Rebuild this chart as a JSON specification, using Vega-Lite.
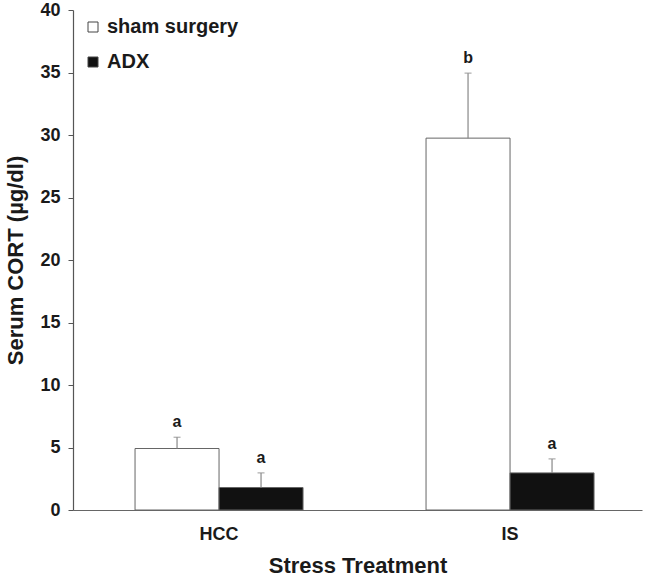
{
  "$schema": "https://vega.github.io/schema/vega-lite/v6.json",
  "autosize": "none",
  "width": 569,
  "height": 500,
  "padding": {"left": 73, "top": 10, "right": 3, "bottom": 70},
  "background": "white",
  "config": {
    "view": {"stroke": null},
    "font": "Liberation Sans"
  },
  "data": {
    "values": [
      {"treatment": "HCC", "group": "sham surgery", "value": 4.92, "upper": 5.82, "letter": "a"},
      {"treatment": "HCC", "group": "ADX", "value": 1.80, "upper": 2.97, "letter": "a"},
      {"treatment": "IS", "group": "sham surgery", "value": 29.75, "upper": 34.95, "letter": "b"},
      {"treatment": "IS", "group": "ADX", "value": 2.97, "upper": 4.09, "letter": "a"}
    ]
  },
  "encoding": {
    "x": {
      "field": "treatment",
      "type": "nominal",
      "sort": ["HCC", "IS"],
      "scale": {"paddingInner": 0.4227, "paddingOuter": 0.189, "align": 0.564},
      "axis": {
        "title": "Stress Treatment",
        "labelAngle": 0,
        "ticks": false,
        "tickSize": 0,
        "labelPadding": 15,
        "labelFontSize": 18,
        "labelFontWeight": "bold",
        "labelColor": "#1a1a1a",
        "titleFontSize": 22,
        "titleFontWeight": "bold",
        "titleColor": "#1a1a1a",
        "titlePadding": 12,
        "domainColor": "#666",
        "domainWidth": 1.2
      }
    },
    "xOffset": {
      "field": "group",
      "type": "nominal",
      "sort": ["sham surgery", "ADX"],
      "scale": {"paddingInner": 0, "paddingOuter": 0}
    }
  },
  "layer": [
    {
      "mark": {"type": "bar", "stroke": "#666", "strokeWidth": 1},
      "encoding": {
        "y": {
          "field": "value",
          "type": "quantitative",
          "scale": {"domain": [0, 40], "nice": false},
          "axis": {
            "title": "Serum CORT (µg/dl)",
            "values": [0, 5, 10, 15, 20, 25, 30, 35, 40],
            "grid": false,
            "tickSize": 5,
            "labelPadding": 8,
            "labelFontSize": 18,
            "labelFontWeight": "bold",
            "labelColor": "#1a1a1a",
            "titleFontSize": 22,
            "titleFontWeight": "bold",
            "titleColor": "#1a1a1a",
            "titlePadding": 12,
            "domainColor": "#555",
            "tickColor": "#555",
            "domainWidth": 1.2
          }
        },
        "color": {
          "field": "group",
          "type": "nominal",
          "sort": ["sham surgery", "ADX"],
          "scale": {"domain": ["sham surgery", "ADX"], "range": ["#ffffff", "#111111"]},
          "legend": {
            "title": null,
            "orient": "none",
            "legendX": 10,
            "legendY": 7,
            "symbolType": "square",
            "symbolSize": 100,
            "symbolStrokeColor": "#444",
            "symbolStrokeWidth": 1,
            "labelFontSize": 20,
            "labelFontWeight": "bold",
            "labelColor": "#1a1a1a",
            "labelOffset": 4,
            "rowPadding": 15,
            "padding": 0
          }
        }
      }
    },
    {
      "mark": {"type": "rule", "color": "#888", "strokeWidth": 1.2},
      "encoding": {
        "y": {"field": "value", "type": "quantitative"},
        "y2": {"field": "upper"}
      }
    },
    {
      "mark": {"type": "tick", "color": "#888", "size": 7, "thickness": 1.2},
      "encoding": {
        "y": {"field": "upper", "type": "quantitative"}
      }
    },
    {
      "mark": {"type": "text", "baseline": "alphabetic", "dy": -10, "fontSize": 16, "fontWeight": "bold", "color": "#1a1a1a"},
      "encoding": {
        "y": {"field": "upper", "type": "quantitative"},
        "text": {"field": "letter"}
      }
    }
  ]
}
